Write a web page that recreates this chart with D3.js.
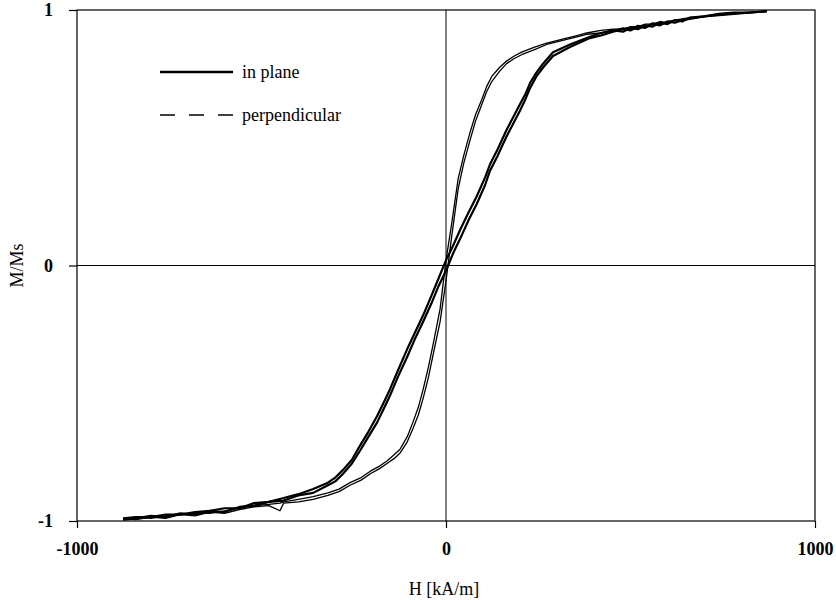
<!DOCTYPE html>
<html>
<head>
<meta charset="utf-8">
<script src="https://cdn.jsdelivr.net/npm/d3@7"></script>
<style>
  body { margin: 0; background: #fff; }
  svg text { font-family: "Liberation Serif", "Times New Roman", serif; fill: #000; }
</style>
</head>
<body>
<div id="chart"></div>
<script>
const w = 836;
const h = 600;
const fontFamily = "'Liberation Serif', 'Times New Roman', serif";

// axis ticks
const xTicks = [-1000, 0, 1000];
const yTicks = [-1, 0, 1];
const xTitle = "H [kA/m]";
const yTitle = "M/Ms";
const seriesNames = ["in plane", "perpendicular"];

// in plane loop (thick)
const inPlaneH = [-875, -840, -800, -760, -720, -680, -640, -600, -560, -520, -480, -440, -400, -360, -320, -300, -279, -255, -233, -210, -187, -170, -152, -130, -106, -85, -62, -40, -20, 0, 20, 40, 62, 83, 106, 119, 140, 164, 182, 200, 215, 228, 245, 263, 290, 336, 390, 420, 453, 480, 500, 520, 540, 560, 580, 600, 620, 640, 660, 700, 740, 780, 820, 870];
const inPlaneUp = [-0.995, -0.99, -0.98, -0.985, -0.97, -0.975, -0.96, -0.965, -0.945, -0.94, -0.925, -0.92, -0.9, -0.89, -0.86, -0.845, -0.815, -0.775, -0.725, -0.67, -0.615, -0.565, -0.51, -0.435, -0.36, -0.29, -0.22, -0.15, -0.08, -0.02, 0.05, 0.11, 0.18, 0.24, 0.315, 0.37, 0.43, 0.505, 0.555, 0.605, 0.65, 0.695, 0.74, 0.775, 0.82, 0.855, 0.89, 0.9, 0.915, 0.925, 0.92, 0.935, 0.93, 0.945, 0.94, 0.955, 0.95, 0.96, 0.965, 0.975, 0.98, 0.985, 0.99, 0.995];
const inPlaneDown = [-0.99, -0.985, -0.985, -0.975, -0.975, -0.965, -0.96, -0.95, -0.95, -0.93, -0.925, -0.91, -0.895, -0.875, -0.85, -0.83, -0.8, -0.76, -0.705, -0.65, -0.59, -0.54, -0.485, -0.41, -0.33, -0.265, -0.195, -0.12, -0.05, 0.02, 0.08, 0.145, 0.21, 0.27, 0.345, 0.395, 0.455, 0.53, 0.58, 0.63, 0.67, 0.715, 0.755, 0.79, 0.835, 0.865, 0.895, 0.91, 0.92, 0.915, 0.93, 0.925, 0.94, 0.935, 0.95, 0.945, 0.96, 0.955, 0.97, 0.975, 0.985, 0.99, 0.99, 0.995];

// perpendicular loop (thin)
const perpH = [-875, -840, -800, -760, -720, -680, -640, -600, -560, -520, -480, -450, -440, -400, -360, -320, -290, -260, -230, -205, -180, -160, -140, -125, -105, -90, -75, -62, -48, -35, -16, 0, 16, 33, 48, 65, 80, 97, 110, 124, 145, 164, 185, 205, 240, 273, 300, 327, 355, 381, 420, 453, 480, 500, 520, 540, 560, 580, 600, 620, 660, 700, 740, 780, 820, 870];
const perpUp = [-0.99, -0.995, -0.985, -0.99, -0.975, -0.98, -0.965, -0.97, -0.955, -0.945, -0.94, -0.96, -0.93, -0.925, -0.915, -0.9, -0.885, -0.86, -0.84, -0.815, -0.795, -0.775, -0.755, -0.735, -0.69, -0.64, -0.585, -0.52, -0.44, -0.35, -0.22, -0.06, 0.12, 0.3, 0.4, 0.49, 0.565, 0.63, 0.68, 0.72, 0.76, 0.79, 0.81, 0.825, 0.845, 0.865, 0.875, 0.885, 0.895, 0.905, 0.91, 0.92, 0.93, 0.925, 0.94, 0.935, 0.95, 0.945, 0.955, 0.96, 0.965, 0.975, 0.98, 0.985, 0.99, 0.995];
const perpDown = [-0.99, -0.985, -0.99, -0.98, -0.975, -0.97, -0.97, -0.96, -0.95, -0.94, -0.935, -0.93, -0.925, -0.915, -0.905, -0.89, -0.875, -0.85, -0.83, -0.805, -0.785, -0.765, -0.74, -0.72, -0.67, -0.615, -0.555, -0.485, -0.4, -0.31, -0.17, 0.02, 0.17, 0.34, 0.43, 0.52, 0.59, 0.65, 0.7, 0.74, 0.775, 0.8, 0.82, 0.835, 0.855, 0.87, 0.88, 0.89, 0.9, 0.91, 0.92, 0.925, 0.925, 0.935, 0.935, 0.945, 0.945, 0.955, 0.95, 0.96, 0.97, 0.975, 0.985, 0.99, 0.99, 0.995];

const margin = {left: 77, right: 21, top: 10, bottom: 79};

const svg = d3.select("#chart")
    .append("svg")
    .attr("width", w)
    .attr("height", h);

const x = d3.scaleLinear().domain([-1000, 1000]).range([margin.left, w - margin.right]);
const y = d3.scaleLinear().domain([-1, 1]).range([h - margin.bottom, margin.top]);

// frame
svg.append("rect")
    .attr("x", x(-1000))
    .attr("y", y(1))
    .attr("width", x(1000) - x(-1000))
    .attr("height", y(-1) - y(1))
    .attr("fill", "none")
    .attr("stroke", "#000")
    .attr("stroke-width", 1.2);

// zero lines
svg.append("line")
    .attr("x1", x(-1000)).attr("x2", x(1000))
    .attr("y1", y(0)).attr("y2", y(0))
    .attr("stroke", "#000").attr("stroke-width", 1);
svg.append("line")
    .attr("x1", x(0)).attr("x2", x(0))
    .attr("y1", y(1)).attr("y2", y(-1))
    .attr("stroke", "#000").attr("stroke-width", 1);

// axes
const xAxis = svg.append("g")
    .attr("transform", "translate(0," + y(-1) + ")")
    .call(d3.axisBottom(x).tickValues(xTicks).tickSize(7).tickPadding(14).tickFormat(d => String(d)));
const yAxis = svg.append("g")
    .attr("transform", "translate(" + x(-1000) + ",0)")
    .call(d3.axisLeft(y).tickValues(yTicks).tickSize(8).tickPadding(16).tickFormat(d => String(d)));

[xAxis, yAxis].forEach(ax => {
    ax.attr("font-family", null).attr("font-size", null);
    ax.select(".domain").remove();
    ax.selectAll("line").attr("stroke", "#000").attr("stroke-width", 1.2);
    ax.selectAll("text")
        .attr("fill", "#000")
        .style("font-family", fontFamily)
        .style("font-size", "18px")
        .style("font-weight", "bold");
});

svg.append("text")
    .attr("x", x(0) - 2)
    .attr("y", 595)
    .attr("text-anchor", "middle")
    .style("font-family", fontFamily)
    .style("font-size", "18px")
    .text(xTitle);

svg.append("text")
    .attr("transform", "translate(23," + y(0) + ") rotate(-90)")
    .attr("text-anchor", "middle")
    .style("font-family", fontFamily)
    .style("font-size", "18px")
    .text(yTitle);

// curves
const line = d3.line()
    .x(d => x(d[0]))
    .y(d => y(d[1]));

function pairs(hs, ms) {
    return hs.map((v, i) => [v, ms[i]]);
}

const plot = svg.append("g").attr("class", "curves");

[perpUp, perpDown].forEach(ms => {
    plot.append("path")
        .datum(pairs(perpH, ms))
        .attr("d", line)
        .attr("fill", "none")
        .attr("stroke", "#000")
        .attr("stroke-width", 1.3)
        .attr("stroke-linejoin", "round");
});

[inPlaneUp, inPlaneDown].forEach(ms => {
    plot.append("path")
        .datum(pairs(inPlaneH, ms))
        .attr("d", line)
        .attr("fill", "none")
        .attr("stroke", "#000")
        .attr("stroke-width", 2.2)
        .attr("stroke-linejoin", "round");
});

// legend
const legend = svg.append("g").attr("class", "legend");
legend.append("line")
    .attr("x1", 160).attr("x2", 233)
    .attr("y1", 72).attr("y2", 72)
    .attr("stroke", "#000").attr("stroke-width", 2.5);
legend.append("line")
    .attr("x1", 160).attr("x2", 233)
    .attr("y1", 115).attr("y2", 115)
    .attr("stroke", "#000").attr("stroke-width", 1.3)
    .attr("stroke-dasharray", "15,14");
legend.selectAll("text")
    .data(seriesNames)
    .enter()
    .append("text")
    .attr("x", 242)
    .attr("y", (d, i) => 78 + i * 43)
    .style("font-family", fontFamily)
    .style("font-size", "18px")
    .text(d => d);
</script>
</body>
</html>
